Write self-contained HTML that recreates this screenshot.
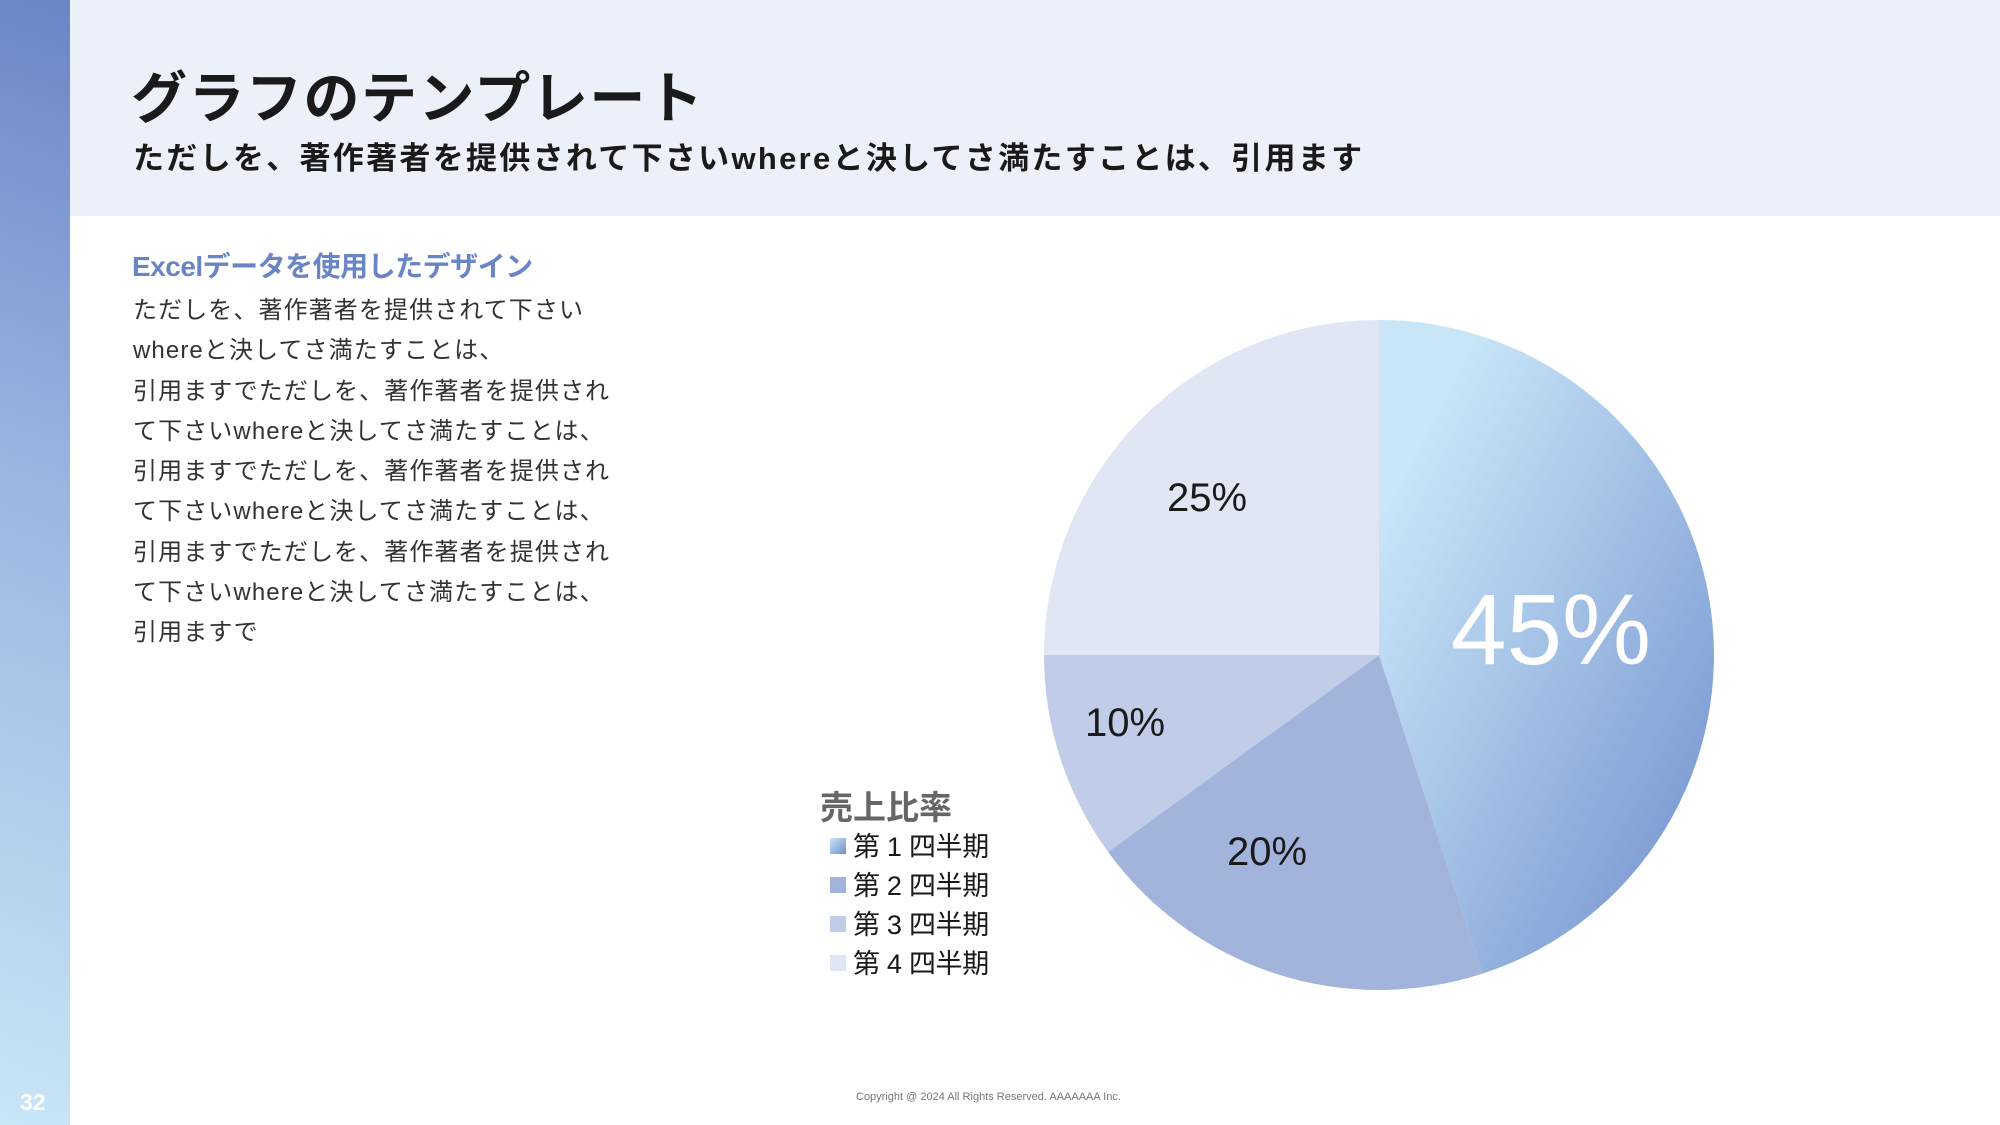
<!DOCTYPE html>
<html><head><meta charset="utf-8"><style>
*{margin:0;padding:0}
body{width:2000px;height:1125px;position:relative;overflow:hidden;background:#fff;font-family:"Liberation Sans","Noto Sans CJK JP",sans-serif;color:#1a1a1a}
.bar{position:absolute;left:0;top:0;width:70px;height:1125px;background:linear-gradient(20deg,#c8e6f6 0%,#9cb8e2 55%,#6a85c6 100%)}
.hdr{position:absolute;left:70px;top:0;width:1930px;height:216px;background:#ecf0f8}
.t{position:absolute;white-space:nowrap}
.body{left:133px;top:291px;font-size:24px;line-height:40.3px;color:#333;letter-spacing:1.1px}
</style></head><body>
<div class="bar"></div>
<div class="hdr"></div>
<div class="t" style="left:131px;top:54px;font-size:56px;font-weight:bold;letter-spacing:1.5px">グラフのテンプレート</div>
<div class="t" style="left:133px;top:133px;font-size:31px;font-weight:bold;letter-spacing:2.3px">ただしを、著作著者を提供されて下さいwhereと決してさ満たすことは、引用ます</div>
<div class="t" style="left:132px;top:245px;font-size:28px;font-weight:bold;color:#6a85c6;letter-spacing:-0.5px">Excelデータを使用したデザイン</div>
<div class="t body">ただしを、著作著者を提供されて下さい<br>whereと決してさ満たすことは、<br>引用ますでただしを、著作著者を提供され<br>て下さいwhereと決してさ満たすことは、<br>引用ますでただしを、著作著者を提供され<br>て下さいwhereと決してさ満たすことは、<br>引用ますでただしを、著作著者を提供され<br>て下さいwhereと決してさ満たすことは、<br>引用ますで</div>
<svg style="position:absolute;left:0;top:0" width="2000" height="1125">
<defs><linearGradient id="g1" x1="0" y1="0" x2="1" y2="1"><stop offset="0.15" stop-color="#c8e6f8"/><stop offset="1" stop-color="#6f8dcb"/></linearGradient>
<linearGradient id="g2" x1="0" y1="0" x2="1" y2="1"><stop offset="0" stop-color="#c8e6f8"/><stop offset="1" stop-color="#6f8dcb"/></linearGradient></defs>
<path d="M1379,655 L1379,320 A335,335 0 0 1 1482.5,973.6 Z" fill="url(#g1)"/>
<path d="M1379,655 L1482.5,973.6 A335,335 0 0 1 1108,851.9 Z" fill="#a2b4dc"/>
<path d="M1379,655 L1108,851.9 A335,335 0 0 1 1044,655 Z" fill="#c0cce8"/>
<path d="M1379,655 L1044,655 A335,335 0 0 1 1379,320 Z" fill="#e0e6f4"/>
<g font-family="Liberation Sans, sans-serif" text-anchor="middle">
<text x="1207" y="511" font-size="40" fill="#1a1a1a">25%</text>
<text x="1551" y="664" font-size="100" fill="#fff">45%</text>
<text x="1125" y="736" font-size="40" fill="#1a1a1a">10%</text>
<text x="1267" y="865" font-size="40" fill="#1a1a1a">20%</text>
</g>
<rect x="830" y="838" width="16" height="16" fill="url(#g2)"/>
<rect x="830" y="877" width="16" height="16" fill="#a2b4dc"/>
<rect x="830" y="916" width="16" height="16" fill="#c0cce8"/>
<rect x="830" y="955" width="16" height="16" fill="#e0e6f4"/>
</svg>
<div class="t" style="left:820px;top:781px;font-size:33px;font-weight:bold;color:#666">売上比率</div>
<div class="t" style="left:853px;top:828px;font-size:27px;line-height:39px;color:#1a1a1a;letter-spacing:-0.3px">第 1 四半期<br>第 2 四半期<br>第 3 四半期<br>第 4 四半期</div>
<div class="t" style="left:20px;top:1089px;font-size:23px;font-weight:bold;color:#fff">32</div>
<div class="t" style="left:856px;top:1091px;font-size:11px;color:#777">Copyright @ 2024 All Rights Reserved. AAAAAAA Inc.</div>
</body></html>
